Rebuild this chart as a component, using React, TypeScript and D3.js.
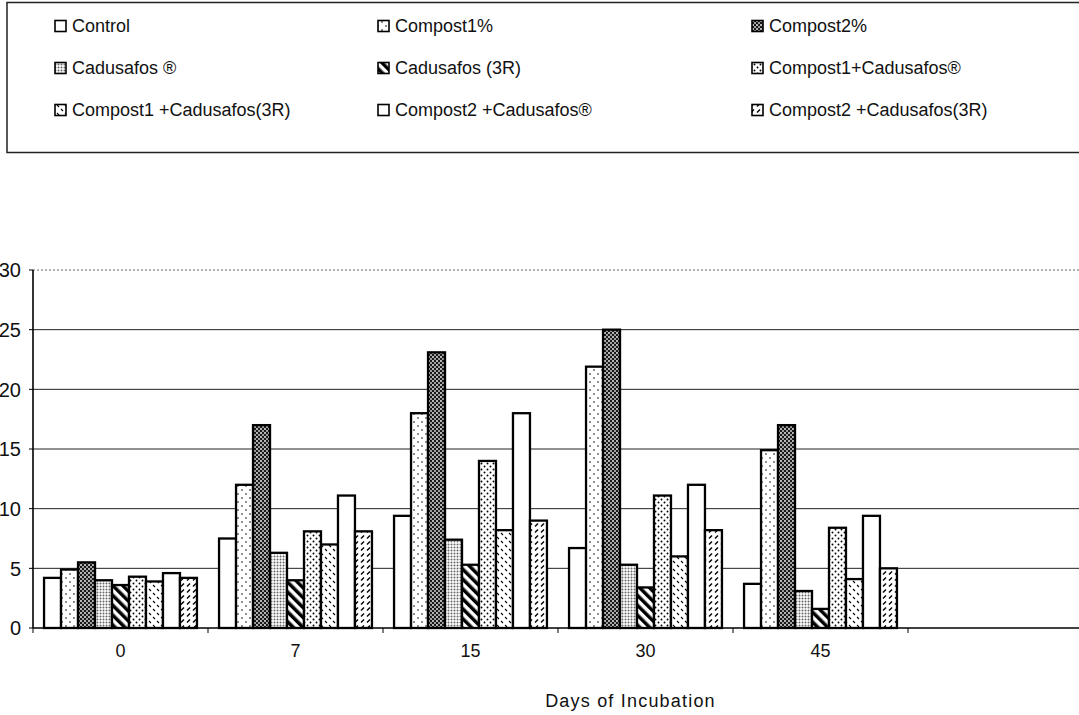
import React from "react";
import * as d3 from "d3";

// Days of incubation (last slot is an empty category on the axis)
const categories = ["0", "7", "15", "30", "45", ""];

const seriesNames = [
  "Control",
  "Compost1%",
  "Compost2%",
  "Cadusafos ®",
  "Cadusafos (3R)",
  "Compost1+Cadusafos®",
  "Compost1 +Cadusafos(3R)",
  "Compost2 +Cadusafos®",
  "Compost2 +Cadusafos(3R)",
];

// Values per series, one per day
const control = [4.2, 7.5, 9.4, 6.7, 3.7];
const compost1 = [4.9, 12.0, 18.0, 21.9, 14.9];
const compost2 = [5.5, 17.0, 23.1, 25.0, 17.0];
const cadusafos = [4.0, 6.3, 7.4, 5.3, 3.1];
const cadusafos3R = [3.6, 4.0, 5.3, 3.4, 1.6];
const compost1Cad = [4.3, 8.1, 14.0, 11.1, 8.4];
const compost1Cad3R = [3.9, 7.0, 8.2, 6.0, 4.1];
const compost2Cad = [4.6, 11.1, 18.0, 12.0, 9.4];
const compost2Cad3R = [4.2, 8.1, 9.0, 8.2, 5.0];

const seriesValues = [
  control,
  compost1,
  compost2,
  cadusafos,
  cadusafos3R,
  compost1Cad,
  compost1Cad3R,
  compost2Cad,
  compost2Cad3R,
];

const yTicks = [0, 5, 10, 15, 20, 25, 30];

const fills = [
  "#ffffff",
  "url(#pSparseDots)",
  "url(#pDarkCheck)",
  "url(#pGridDots)",
  "url(#pStripes)",
  "url(#pMedDots)",
  "url(#pSparseDashes)",
  "#ffffff",
  "url(#pHatch)",
];

const W = 1079;
const H = 715;
const FONT = "'Liberation Sans', Arial, sans-serif";

export default function App() {
  const plotLeft = 33;
  const plotRight = 33 + 6 * 175;
  const plotTop = 270;
  const plotBottom = 628;

  const x0 = d3
    .scaleBand<string>()
    .domain(categories)
    .range([plotLeft, plotRight])
    .paddingInner(0)
    .paddingOuter(0);

  const x1 = d3
    .scaleBand<string>()
    .domain(seriesNames)
    .range([0, x0.bandwidth()])
    .paddingInner(0)
    .paddingOuter(0.65);

  const y = d3.scaleLinear().domain([0, 30]).range([plotBottom, plotTop]);

  const legendCols = [55, 378, 752];
  const legendRows = [26, 68, 110];

  return (
    <svg
      width={W}
      height={H}
      style={{ position: "absolute", left: 0, top: 0, background: "#fff" }}
      fontFamily={FONT}
    >
      <defs>
        <pattern id="pSparseDots" width="8" height="8" patternUnits="userSpaceOnUse">
          <rect width="8" height="8" fill="#fff" />
          <circle cx="2" cy="2" r="0.8" fill="#000" />
          <circle cx="6" cy="6" r="0.8" fill="#000" />
        </pattern>
        <pattern id="pDarkCheck" width="4" height="4" patternUnits="userSpaceOnUse">
          <rect width="4" height="4" fill="#1a1a1a" />
          <circle cx="1" cy="1" r="0.9" fill="#fff" />
          <circle cx="3" cy="3" r="0.9" fill="#ddd" />
        </pattern>
        <pattern id="pGridDots" width="3" height="3" patternUnits="userSpaceOnUse">
          <rect width="3" height="3" fill="#fff" />
          <circle cx="1.5" cy="1.5" r="1" fill="#666" />
        </pattern>
        <pattern
          id="pStripes"
          width="7"
          height="7"
          patternUnits="userSpaceOnUse"
          patternTransform="rotate(-45)"
        >
          <rect width="7" height="7" fill="#fff" />
          <rect width="3.5" height="7" fill="#000" />
        </pattern>
        <pattern id="pMedDots" width="6" height="6" patternUnits="userSpaceOnUse">
          <rect width="6" height="6" fill="#fff" />
          <circle cx="1.5" cy="1.5" r="0.95" fill="#000" />
          <circle cx="4.5" cy="4.5" r="0.95" fill="#000" />
        </pattern>
        <pattern id="pSparseDashes" width="8" height="8" patternUnits="userSpaceOnUse">
          <rect width="8" height="8" fill="#fff" />
          <line x1="1" y1="1" x2="3" y2="3" stroke="#000" strokeWidth="1.1" />
          <line x1="5" y1="5" x2="7" y2="7" stroke="#000" strokeWidth="1.1" />
        </pattern>
        <pattern id="pHatch" width="6" height="6" patternUnits="userSpaceOnUse">
          <rect width="6" height="6" fill="#fff" />
          <line x1="1" y1="4.5" x2="4" y2="1.5" stroke="#000" strokeWidth="1.4" />
        </pattern>
      </defs>

      {/* Legend box */}
      <rect x={7} y={2.5} width={W + 10} height={150} fill="none" stroke="#222" strokeWidth={1.5} />
      {seriesNames.map((name, i) => {
        const cx = legendCols[i % 3];
        const cy = legendRows[Math.floor(i / 3)];
        return (
          <g key={name}>
            <rect
              x={cx}
              y={cy - 5.5}
              width={11}
              height={11}
              fill={fills[i]}
              stroke="#000"
              strokeWidth={1.6}
            />
            <text x={cx + 17} y={cy} dy="0.36em" fontSize={18} fill="#111">
              {name}
            </text>
          </g>
        );
      })}

      {/* Gridlines */}
      {yTicks
        .filter((t) => t > 0)
        .map((t) => (
          <line
            key={t}
            x1={plotLeft}
            x2={W}
            y1={y(t)}
            y2={y(t)}
            stroke={t === 30 ? "#666" : "#222"}
            strokeWidth={1}
            strokeDasharray={t === 30 ? "2,2" : undefined}
          />
        ))}

      {/* Bars */}
      {seriesValues.map((vals, si) =>
        vals.map((v, ci) => {
          const bx = (x0(categories[ci]) ?? 0) + (x1(seriesNames[si]) ?? 0);
          return (
            <rect
              key={`${si}-${ci}`}
              x={bx}
              y={y(v)}
              width={x1.bandwidth()}
              height={y(0) - y(v)}
              fill={fills[si]}
              stroke="#000"
              strokeWidth={2.3}
            />
          );
        })
      )}

      {/* Axes */}
      <line x1={plotLeft} x2={plotLeft} y1={plotTop} y2={plotBottom} stroke="#000" strokeWidth={1.6} />
      <line x1={plotLeft} x2={W} y1={plotBottom} y2={plotBottom} stroke="#000" strokeWidth={1.6} />
      {yTicks.map((t) => (
        <g key={t}>
          <line x1={plotLeft - 4} x2={plotLeft} y1={y(t)} y2={y(t)} stroke="#000" strokeWidth={1} />
          <text x={21} y={y(t)} dy="0.36em" textAnchor="end" fontSize={20} fill="#111">
            {t}
          </text>
        </g>
      ))}
      {categories.map((c) => (
        <g key={`c${c}`}>
          <line
            x1={x0(c) ?? 0}
            x2={x0(c) ?? 0}
            y1={plotBottom}
            y2={plotBottom + 5}
            stroke="#000"
            strokeWidth={1}
          />
          <text
            x={(x0(c) ?? 0) + x0.bandwidth() / 2}
            y={651}
            dy="0.36em"
            textAnchor="middle"
            fontSize={18}
            fill="#111"
          >
            {c}
          </text>
        </g>
      ))}
      <text
        x={(544 + 717) / 2}
        y={701}
        dy="0.36em"
        textAnchor="middle"
        fontSize={18}
        letterSpacing={1.2}
        fill="#111"
      >
        Days of Incubation
      </text>
    </svg>
  );
}
